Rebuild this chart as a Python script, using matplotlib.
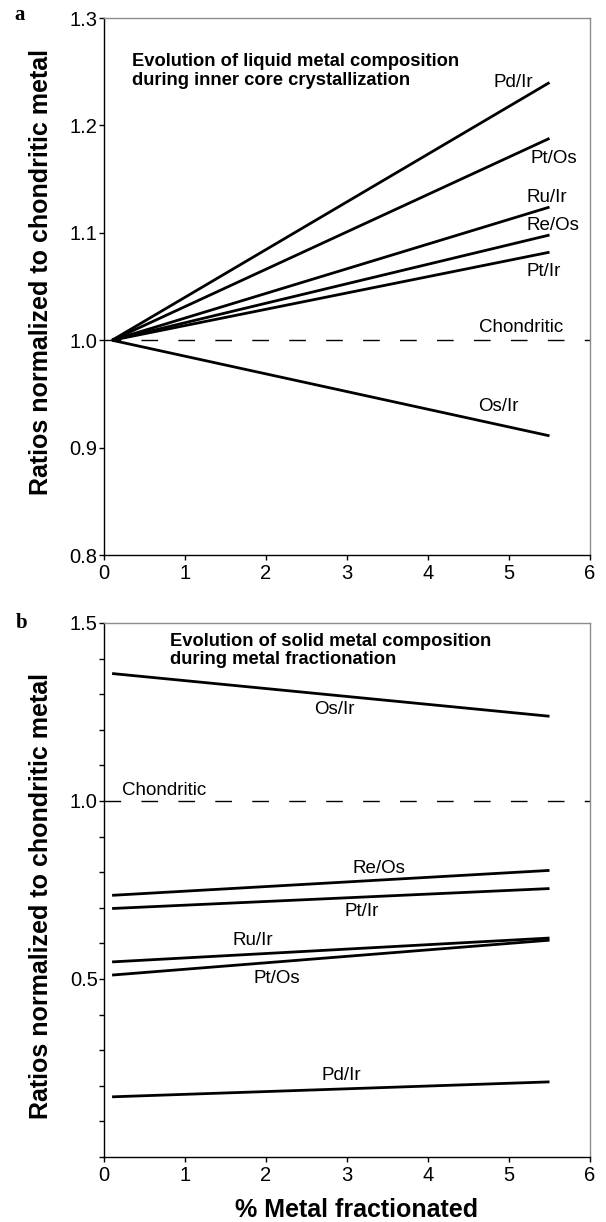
import numpy as np
import matplotlib
matplotlib.use("Agg")
import matplotlib.pyplot as plt
from matplotlib.ticker import MultipleLocator

plt.rcParams["font.family"] = ["Liberation Sans", "DejaVu Sans"]

# % metal fractionated, end points of each model line
x_frac = [0.1, 5.5]

# (a) liquid metal during inner core crystallization
liquid_names = ["Pd/Ir", "Pt/Os", "Ru/Ir", "Re/Os", "Pt/Ir", "Os/Ir"]
liquid_start = [1.0, 1.0, 1.0, 1.0, 1.0, 1.0]
liquid_end = [1.240, 1.188, 1.124, 1.098, 1.082, 0.911]

# (b) solid metal during metal fractionation
solid_names = ["Os/Ir", "Re/Os", "Pt/Ir", "Ru/Ir", "Pt/Os", "Pd/Ir"]
solid_start = [1.358, 0.735, 0.698, 0.548, 0.511, 0.169]
solid_end = [1.238, 0.805, 0.754, 0.615, 0.609, 0.211]

# label anchor points (x, y) in data units
liquid_label_xy = {
    "Pd/Ir": (5.30, 1.240, "right"),
    "Pt/Os": (5.26, 1.169, "left"),
    "Ru/Ir": (5.21, 1.133, "left"),
    "Re/Os": (5.21, 1.107, "left"),
    "Pt/Ir": (5.21, 1.064, "left"),
    "Os/Ir": (4.62, 0.938, "left"),
}
solid_label_xy = {
    "Os/Ir": (2.60, 1.258),
    "Re/Os": (3.07, 0.810),
    "Pt/Ir": (2.97, 0.690),
    "Ru/Ir": (1.59, 0.607),
    "Pt/Os": (1.84, 0.501),
    "Pd/Ir": (2.68, 0.229),
}

LABEL_FS = 13.5
TITLE_FS = 13.2
TICK_FS = 14.5
AXIS_FS = 18

fig = plt.figure(figsize=(6.06, 12.22), dpi=100)
ax_a = fig.add_axes([0.1716, 0.5458, 0.802, 0.4394])
ax_b = fig.add_axes([0.1716, 0.0532, 0.802, 0.4370])


def style_axes(ax):
    for side in ("top", "right"):
        ax.spines[side].set_color("#8c8c8c")
        ax.spines[side].set_linewidth(1.0)
    for side in ("left", "bottom"):
        ax.spines[side].set_color("black")
        ax.spines[side].set_linewidth(1.0)
    ax.tick_params(which="both", direction="out", length=3.5, width=1,
                   labelsize=TICK_FS, top=False, right=False)
    ax.tick_params(axis="y", pad=1)
    ax.tick_params(axis="x", pad=3)
    ax.set_xlim(0, 6)
    ax.xaxis.set_major_locator(MultipleLocator(1))
    ax.axhline(1.0, color="black", lw=1.0, dashes=(12, 14.6))
    ax.set_ylabel("Ratios normalized to chondritic metal",
                  fontsize=AXIS_FS, fontweight="bold")
    ax.yaxis.label.set_va("center")


# panel a
style_axes(ax_a)
for name, y0, y1 in zip(liquid_names, liquid_start, liquid_end):
    ax_a.plot(x_frac, [y0, y1], color="black", lw=2, solid_capstyle="butt")
    lx, ly, ha = liquid_label_xy[name]
    ax_a.text(lx, ly, name, fontsize=LABEL_FS, ha=ha, va="center")
ax_a.text(4.63, 1.012, "Chondritic", fontsize=LABEL_FS, ha="left", va="center")
ax_a.set_ylim(0.8, 1.3)
ax_a.yaxis.set_major_locator(MultipleLocator(0.1))
ax_a.yaxis.set_major_formatter(plt.FormatStrFormatter("%.1f"))
ax_a.yaxis.set_label_coords(-0.130, 0.527)
ax_a.text(0.35, 1.2507, "Evolution of liquid metal composition\nduring inner core crystallization",
          fontsize=TITLE_FS, fontweight="bold", ha="left", va="center", linespacing=1.1)

# panel b
style_axes(ax_b)
for name, y0, y1 in zip(solid_names, solid_start, solid_end):
    ax_b.plot(x_frac, [y0, y1], color="black", lw=2, solid_capstyle="butt")
    lx, ly = solid_label_xy[name]
    ax_b.text(lx, ly, name, fontsize=LABEL_FS, ha="left", va="center")
ax_b.text(0.22, 1.030, "Chondritic", fontsize=LABEL_FS, ha="left", va="center")
ax_b.set_ylim(0, 1.5)
ax_b.yaxis.set_major_locator(MultipleLocator(0.5))
ax_b.yaxis.set_minor_locator(MultipleLocator(0.1))
ax_b.yaxis.set_major_formatter(
    plt.FuncFormatter(lambda v, p: "" if abs(v) < 1e-9 else f"{v:.1f}"))
ax_b.yaxis.set_label_coords(-0.130, 0.488)
ax_b.text(0.82, 1.422, "Evolution of solid metal composition\nduring metal fractionation",
          fontsize=TITLE_FS, fontweight="bold", ha="left", va="center", linespacing=1.1)
ax_b.set_xlabel("% Metal fractionated", fontsize=AXIS_FS, fontweight="bold")
ax_b.xaxis.label.set_va("center")
ax_b.xaxis.set_label_coords(0.52, -0.099)

fig.text(0.033, 0.9877, "a", fontsize=15, fontweight="bold", family="Liberation Serif",
         ha="center", va="center")
fig.text(0.036, 0.490, "b", fontsize=15, fontweight="bold", family="Liberation Serif",
         ha="center", va="center")

fig.savefig("out.png", dpi=100)
